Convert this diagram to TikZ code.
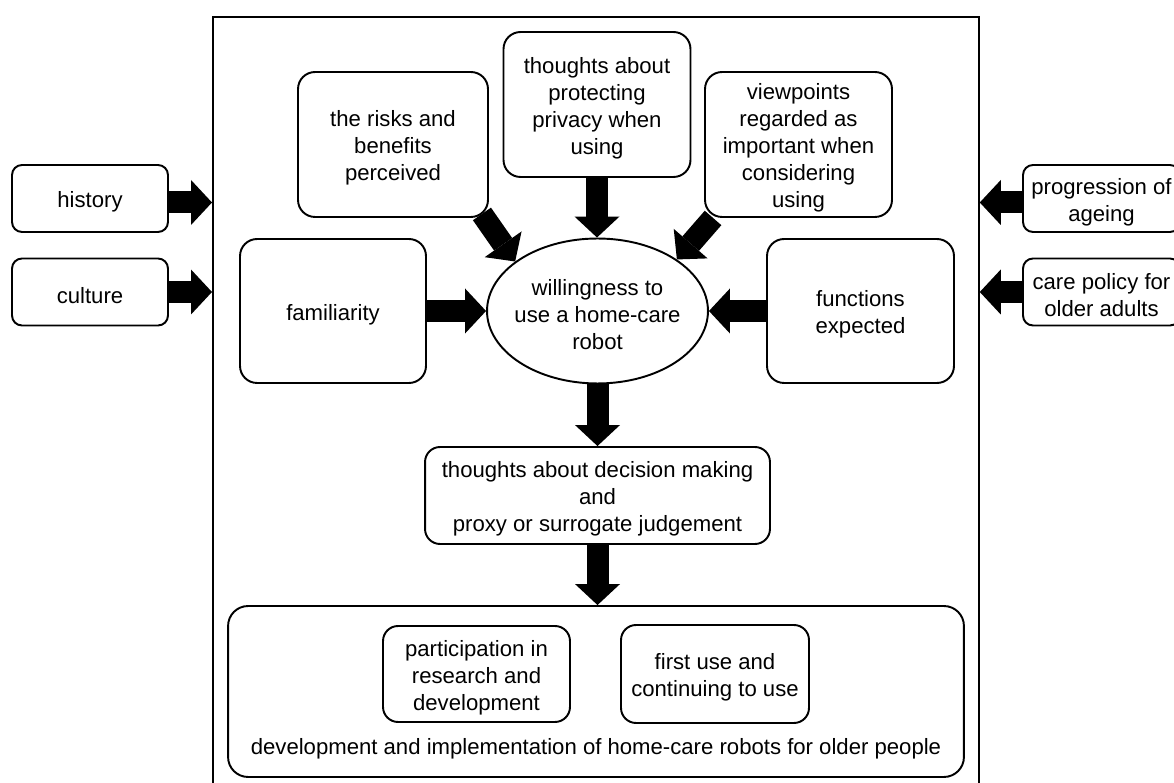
\documentclass[tikz,border=0pt]{standalone}
\usepackage{fontspec}
\setmainfont{Liberation Sans}
\usetikzlibrary{arrows.meta,shapes.geometric,backgrounds}
\begin{document}
\begin{tikzpicture}[x=0.02cm,y=-0.02cm,
  every node/.style={font=\fontsize{12.6}{15.3}\selectfont, align=center, inner sep=0pt},
  rbox/.style={draw, line width=1.1pt, fill=white, rounded corners=#1},
  rbox/.default=0.34cm,
  txt/.style={label={[yshift=-0.07cm]center:#1}},
  bigarrow/.style={line width=0.44cm, -{Triangle[length=0.42cm,width=0.9cm,line width=0pt]}},
]
\useasboundingbox (0,0) rectangle (1174,783);
% frame
\node[draw, line width=1.1pt, minimum width=15.32cm, minimum height=15.7cm, anchor=north west] (frame) at (212,16) {};
% outside boxes
\node[rbox=0.2cm, minimum width=3.12cm, minimum height=1.34cm, txt={history}] (hist) at (90,198.5) {};
\node[rbox=0.2cm, minimum width=3.12cm, minimum height=1.34cm, txt={culture}] (cult) at (90,292) {};
\node[rbox=0.2cm, minimum width=3.14cm, minimum height=1.34cm, txt={progression of\\ageing}] (prog) at (1101.5,198.5) {};
\node[rbox=0.2cm, minimum width=3.14cm, minimum height=1.34cm, txt={care policy for\\older adults}] (care) at (1101.5,292) {};
% top boxes
\node[rbox, minimum width=3.8cm, minimum height=2.9cm, txt={the risks and\\benefits\\perceived}] (risk) at (393,144.5) {};
\node[rbox, minimum width=3.74cm, minimum height=2.9cm, txt={thoughts about\\protecting\\privacy when\\using}] (priv) at (597,104.5) {};
\node[rbox, minimum width=3.74cm, minimum height=2.9cm, txt={viewpoints\\regarded as\\important when\\considering\\using}] (view) at (798.5,144.5) {};
\node[rbox, minimum width=3.72cm, minimum height=2.88cm, txt={familiarity}] (fam) at (333,311) {};
\node[rbox, minimum width=3.74cm, minimum height=2.88cm, txt={functions\\expected}] (func) at (860.5,311) {};
\node[draw, ellipse, line width=1.1pt, fill=white, minimum width=4.42cm, minimum height=2.9cm, txt={willingness to\\use a home-care\\robot}] (will) at (597.5,311) {};
\node[rbox=0.3cm, minimum width=6.9cm, minimum height=1.94cm, txt={thoughts about decision making\\and\\proxy or surrogate judgement}] (dec) at (597.5,495.5) {};
% bottom
\node[rbox=0.4cm, minimum width=14.72cm, minimum height=3.42cm] (impl) at (596,691.5) {};
\node[rbox=0.3cm, minimum width=3.74cm, minimum height=1.92cm, txt={participation in\\research and\\development}] (part) at (476.5,674) {};
\node[rbox=0.3cm, minimum width=3.76cm, minimum height=1.96cm, txt={first use and\\continuing to use}] (first) at (715,674) {};
\node (impltext) at (596,749) {development and implementation of home-care robots for older people};
% arrows
\begin{scope}[on background layer]
\fill[white] (0,0) rectangle (1174,783);
\draw[bigarrow] ([shift={(0,4)}]hist.east) -- ([shift={(0,4)}]hist.east -| frame.west);
\draw[bigarrow] (cult.east) -- (cult.east -| frame.west);
\draw[bigarrow] ([shift={(0,4)}]prog.west) -- ([shift={(0,4)}]prog.west -| frame.east);
\draw[bigarrow] (care.west) -- (care.west -| frame.east);
\draw[bigarrow] ([shift={(-7,-4)}]risk.south east) -- (will.149);
\draw[bigarrow] (priv.south) -- (priv.south |- will.north);
\draw[bigarrow] ([shift={(9,0)}]view.south west) -- (will.33);
\draw[bigarrow] (fam.east) -- (fam.east -| will.west);
\draw[bigarrow] (func.west) -- (func.west -| will.east);
\draw[bigarrow] (will.south) -- (will.south |- dec.north);
\draw[bigarrow] (dec.south) -- (dec.south |- impl.north);
\end{scope}
\end{tikzpicture}
\end{document}
